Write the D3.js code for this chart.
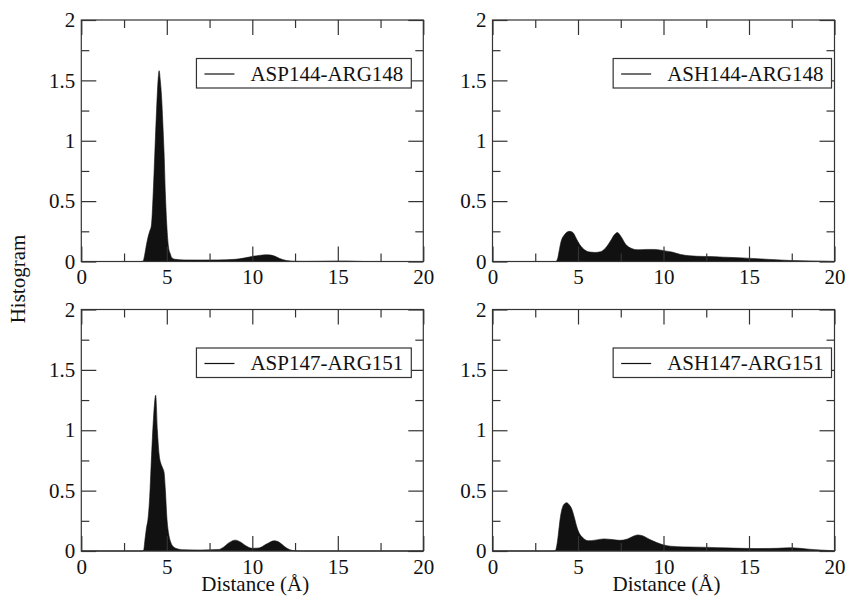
<!DOCTYPE html>
<html>
<head>
<meta charset="utf-8">
<script src="https://cdn.jsdelivr.net/npm/d3@7"></script>
<style>
  body { margin: 0; background: #fff; }
</style>
</head>
<body>
<script>
// series names (legend text)
const seriesNames = ["ASP144-ARG148", "ASH144-ARG148", "ASP147-ARG151", "ASH147-ARG151"];

// distance (A) / histogram values
const distA = [0, 3.5, 3.62, 3.7, 3.8, 3.9, 4.0, 4.1, 4.2, 4.3, 4.4, 4.5, 4.55, 4.62, 4.7, 4.76, 4.84, 4.92, 5.0, 5.1, 5.2, 5.3, 5.5, 6, 7, 8, 9, 9.5, 10, 10.5, 10.9, 11.3, 11.6, 12, 12.5, 13, 14, 15, 15.5, 16, 16.5, 20];
const histA = [0, 0, 0.005, 0.05, 0.13, 0.2, 0.25, 0.3, 0.55, 0.9, 1.25, 1.52, 1.58, 1.5, 1.35, 1.17, 0.9, 0.55, 0.3, 0.12, 0.065, 0.03, 0.018, 0.013, 0.012, 0.013, 0.018, 0.028, 0.042, 0.052, 0.055, 0.045, 0.025, 0.008, 0.002, 0.001, 0.002, 0.004, 0.004, 0.002, 0, 0];

const distB = [0, 3.7, 3.8, 3.9, 4.0, 4.2, 4.5, 4.7, 4.9, 5.1, 5.4, 5.7, 6.0, 6.3, 6.6, 6.9, 7.15, 7.3, 7.5, 7.8, 8.1, 8.5, 9.0, 9.5, 10, 10.5, 11, 11.5, 12, 12.7, 13.5, 14.6, 15.5, 16.6, 17.5, 18.5, 19.5, 20];
const histB = [0, 0, 0.02, 0.09, 0.16, 0.22, 0.25, 0.24, 0.19, 0.14, 0.095, 0.078, 0.075, 0.08, 0.11, 0.17, 0.225, 0.24, 0.21, 0.14, 0.11, 0.097, 0.1, 0.1, 0.09, 0.078, 0.058, 0.048, 0.043, 0.041, 0.036, 0.03, 0.023, 0.014, 0.008, 0.005, 0.002, 0];

const distC = [0, 3.55, 3.65, 3.72, 3.8, 3.92, 4.0, 4.08, 4.2, 4.28, 4.35, 4.45, 4.55, 4.64, 4.75, 4.84, 4.92, 5.0, 5.1, 5.19, 5.3, 5.38, 5.7, 6, 7, 8, 8.3, 8.6, 9.0, 9.3, 9.6, 10, 10.4, 10.8, 11.3, 11.6, 11.9, 12.2, 12.5, 13, 20];
const histC = [0, 0, 0.01, 0.09, 0.18, 0.29, 0.45, 0.7, 1.05, 1.22, 1.29, 1.0, 0.8, 0.73, 0.69, 0.65, 0.5, 0.285, 0.15, 0.09, 0.05, 0.035, 0.015, 0.01, 0.008, 0.012, 0.03, 0.065, 0.09, 0.075, 0.045, 0.022, 0.025, 0.055, 0.085, 0.07, 0.035, 0.01, 0.002, 0, 0];

const distD = [0, 3.6, 3.7, 3.8, 3.9, 3.95, 4.05, 4.2, 4.34, 4.5, 4.63, 4.8, 4.93, 5.1, 5.22, 5.4, 5.61, 6.0, 6.5, 7.0, 7.45, 7.9, 8.2, 8.5, 8.8, 9.2, 9.6, 10.0, 10.4, 10.8, 11.5, 12.7, 13.5, 14.6, 15.5, 16.6, 17.4, 18, 18.5, 19.2, 19.7, 20];
const histD = [0, 0, 0.01, 0.08, 0.2, 0.26, 0.34, 0.39, 0.4, 0.38, 0.35, 0.27, 0.2, 0.14, 0.12, 0.095, 0.085, 0.09, 0.1, 0.095, 0.088, 0.1, 0.12, 0.133, 0.125, 0.095, 0.07, 0.05, 0.04, 0.036, 0.033, 0.03, 0.026, 0.022, 0.02, 0.022, 0.027, 0.022, 0.015, 0.008, 0.004, 0];

const dists = [distA, distB, distC, distD];
const hists = [histA, histB, histC, histD];

// axis ticks
const xMajor = [0, 5, 10, 15, 20];
const xMinor = [2.5, 7.5, 12.5, 17.5];
const yMajor = [0, 0.5, 1, 1.5, 2];
const yMinor = [0.25, 0.75, 1.25, 1.75];

const W = 847, H = 604;
const pw = 342, ph = 241.5;
const colX = [81.3, 492.5];
const rowY = [20, 309.5];
const legendRight = [12, 3]; // gap from frame per column
const FONT = "Liberation Serif";

const svg = d3.select("body").append("svg").attr("width", W).attr("height", H)
  .attr("font-family", FONT);

const fmt = d => String(d);

function ticks(axis, vals, size, labels, pad) {
  const a = axis.tickValues(vals).tickSize(size).tickPadding(pad || 0);
  if (!labels) a.tickFormat("");
  else a.tickFormat(fmt);
  return a;
}

seriesNames.forEach((name, i) => {
  const col = i % 2, row = Math.floor(i / 2);
  const g = svg.append("g").attr("transform", `translate(${colX[col]},${rowY[row]})`);

  const x = d3.scaleLinear().domain([0, 20]).range([0, pw]);
  const y = d3.scaleLinear().domain([0, 2]).range([ph, 0]);

  const pts = dists[i].map((d, k) => [d, hists[i][k]]);
  const area = d3.area()
    .x(d => x(d[0]))
    .y0(y(0))
    .y1(d => y(d[1]))
    .curve(d3.curveMonotoneX);

  g.append("path")
    .attr("d", area(pts))
    .attr("fill", "#111")
    .attr("stroke", "#111")
    .attr("stroke-width", 0.6);

  // frame
  g.append("rect")
    .attr("width", pw).attr("height", ph)
    .attr("fill", "none").attr("stroke", "#333").attr("stroke-width", 1.2);

  g.append("g").attr("transform", `translate(0,${ph})`)
    .call(ticks(d3.axisBottom(x), xMajor, -15, true, 8));
  g.append("g").attr("transform", `translate(0,${ph})`)
    .call(ticks(d3.axisBottom(x), xMinor, -8, false));
  g.append("g").call(ticks(d3.axisTop(x), xMajor, -15, false));
  g.append("g").call(ticks(d3.axisTop(x), xMinor, -8, false));
  g.append("g").call(ticks(d3.axisLeft(y), yMajor, -15, true, 6));
  g.append("g").call(ticks(d3.axisLeft(y), yMinor, -8, false));
  g.append("g").attr("transform", `translate(${pw},0)`).call(ticks(d3.axisRight(y), yMajor, -15, false));
  g.append("g").attr("transform", `translate(${pw},0)`).call(ticks(d3.axisRight(y), yMinor, -8, false));

  g.selectAll(".domain").remove();
  g.selectAll("g").attr("font-family", FONT).attr("font-size", 21);
  g.selectAll(".tick line").attr("stroke", "#333").attr("stroke-width", 1.2);
  g.selectAll(".tick text").attr("fill", "#111").attr("font-family", FONT);

  // legend
  const lg = g.append("g");
  const lt = lg.append("text")
    .attr("font-family", FONT)
    .attr("font-size", 21)
    .attr("fill", "#111")
    .text(name);
  const tw = lt.node().getComputedTextLength();
  const bw = 54 + tw + 8, bh = 29.5;
  const bx = pw - legendRight[col] - bw, by = 38.5;
  lg.insert("rect", "text")
    .attr("x", bx).attr("y", by).attr("width", bw).attr("height", bh)
    .attr("fill", "#fff").attr("stroke", "#333").attr("stroke-width", 1.2);
  lg.append("line")
    .attr("x1", bx + 8).attr("x2", bx + 38)
    .attr("y1", by + 15.5).attr("y2", by + 15.5)
    .attr("stroke", "#111").attr("stroke-width", 1.2);
  lt.attr("x", bx + 54).attr("y", by + 22.4);

  if (row === 1) {
    g.append("text")
      .attr("x", pw / 2 + 3).attr("y", 591 - rowY[1])
      .attr("text-anchor", "middle")
      .attr("font-family", FONT).attr("font-size", 21).attr("fill", "#111")
      .text("Distance (Å)");
  }
});

svg.append("text")
  .attr("transform", "translate(25,279) rotate(-90)")
  .attr("text-anchor", "middle")
  .attr("font-family", FONT).attr("font-size", 21).attr("fill", "#111")
  .text("Histogram");
</script>
</body>
</html>
